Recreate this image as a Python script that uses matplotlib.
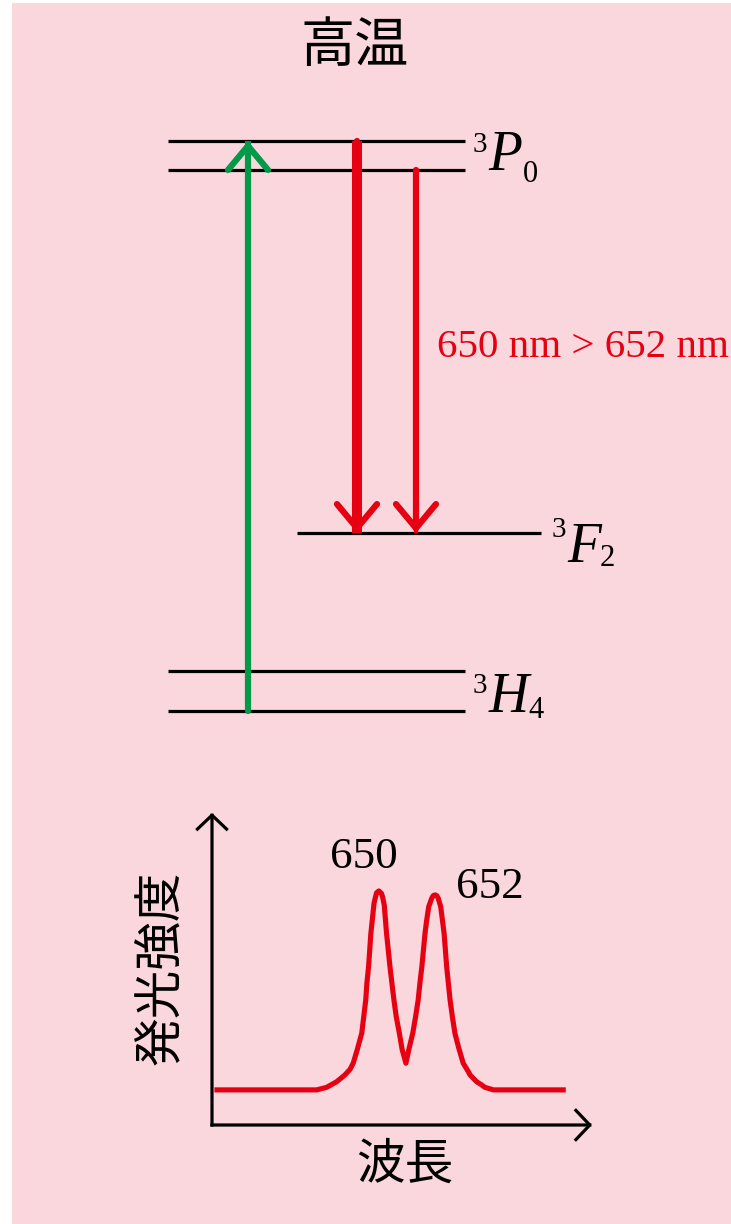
import matplotlib
matplotlib.use('Agg')
import matplotlib.pyplot as plt
from matplotlib.patches import FancyArrowPatch, Rectangle

# energy levels of the ion, in diagram units (3H4 lower sublevel = 0)
level_terms = ['3H4', '3H4', '3F2', '3P0', '3P0']
level_energy = [0, 40, 178, 541, 570]

# green pump: 3H4 -> upper 3P0
pump_from = 0
pump_to = 570

# red emissions 3P0 -> 3F2
emission_nm = [650, 652]
emission_from = [570, 541]
emission_to = [178, 178]

# emission spectrum at high temperature
wavelength = [644.26, 647.85, 648.2, 648.55, 648.84, 649.02, 649.13, 649.27,
              649.43, 649.5, 649.57, 649.61, 649.67, 649.75, 649.8, 649.86,
              649.92, 649.95, 650.03, 650.12, 650.16, 650.22, 650.3, 650.42,
              650.49, 650.56, 650.64, 650.75, 650.85, 650.98, 651.08, 651.22,
              651.32, 651.41, 651.47, 651.54, 651.65, 651.71, 651.78, 651.89,
              651.94, 652.0, 652.06, 652.11, 652.2, 652.26, 652.32, 652.41,
              652.47, 652.53, 652.61, 652.7, 652.82, 652.99, 653.17, 653.23,
              653.46, 653.64, 653.75, 654.05, 656.59]
intensity = [0.15, 0.15, 0.161, 0.185, 0.214, 0.238, 0.264, 0.321,
             0.392, 0.463, 0.534, 0.605, 0.677, 0.819, 0.876, 0.947,
             0.978, 0.992, 1.0, 0.99, 0.975, 0.94, 0.819, 0.677,
             0.605, 0.534, 0.463, 0.392, 0.321, 0.264, 0.321, 0.392,
             0.463, 0.534, 0.605, 0.677, 0.819, 0.876, 0.933, 0.97,
             0.98, 0.983, 0.98, 0.97, 0.933, 0.876, 0.819, 0.677,
             0.605, 0.534, 0.463, 0.392, 0.335, 0.264, 0.228, 0.214,
             0.185, 0.171, 0.161, 0.15, 0.15]

RED = '#e60012'
GREEN = '#009a48'
PINK = '#fad7dc'
W, H = 731, 1224

plt.rcParams['font.family'] = ['Noto Sans CJK JP', 'DejaVu Sans']
serif = 'Liberation Serif'

fig = plt.figure(figsize=(W / 100, H / 100), dpi=100)
fig.patch.set_facecolor('white')
fig.patches.append(Rectangle((12 / W, 0), 1, 1 - 3 / H, transform=fig.transFigure,
                             facecolor=PINK, edgecolor='none', zorder=-10))

# --- level diagram: x in pixels, y in diagram energy units ---
ax = fig.add_axes([0, 0, 1, 1])
ax.set_xlim(0, W)
ax.set_ylim(711 - H, 711)
ax.axis('off')
ax.patch.set_alpha(0)

level_span = {'3H4': (168, 465), '3F2': (297, 541), '3P0': (168, 465)}
for term, e in zip(level_terms, level_energy):
    x0, x1 = level_span[term]
    ax.plot([x0, x1], [e, e], color='black', lw=2.3, solid_capstyle='butt', zorder=2)


def arrow(x, e0, e1, color, shaft_lw, head_lw=4.5):
    ax.plot([x, x], [e0, e1], color=color, lw=shaft_lw, solid_capstyle='butt', zorder=3)
    ax.add_patch(FancyArrowPatch((x, e0), (x, e1), arrowstyle='->,head_length=17.3,head_width=14.4',
                                 mutation_scale=1, lw=head_lw, color=color,
                                 shrinkA=0, shrinkB=0, zorder=3))


arrow(248, pump_from, pump_to, GREEN, 4.3)
emission_x = [357, 416]
emission_lw = [7.2, 3.2]
for x, e0, e1, lw in zip(emission_x, emission_from, emission_to, emission_lw):
    arrow(x, e0, e1, RED, lw)

ax.text(437, 711 - 357, f'{emission_nm[0]} nm > {emission_nm[1]} nm', color=RED,
        family=serif, fontsize=29.5, ha='left', va='baseline')


def term_label(sup_xy, letter_xy, sub_xy, letter, sub):
    ax.text(sup_xy[0], 711 - sup_xy[1], '3', family=serif, fontsize=21, va='baseline')
    ax.text(letter_xy[0], 711 - letter_xy[1], letter, family=serif, style='italic',
            fontsize=40, va='baseline')
    ax.text(sub_xy[0], 711 - sub_xy[1], sub, family=serif, fontsize=22, va='baseline')


term_label((473, 152), (488, 170), (523, 182), 'P', '0')
term_label((552, 537), (567, 562), (600, 566), 'F', '2')
term_label((473, 693), (489, 712), (528, 718), 'H', '4')

fig.text(355 / W, 1 - 47 / H, '高温', fontsize=39, ha='center', va='center')

# --- spectrum ---
x_lo, x_hi = 644.175, 657.51
sx = fig.add_axes([212 / W, 1 - 1125 / H, (592 - 212) / W, (1125 - 813) / H])
sx.set_xlim(x_lo, x_hi)
sx.set_ylim(0, 1.333)
sx.axis('off')
sx.patch.set_alpha(0)
sx.plot(wavelength, intensity, color=RED, lw=3.7, solid_joinstyle='round',
        solid_capstyle='butt', clip_on=False)
for start, end in [((0, 0), (1, 0)), ((0, 0), (0, 1))]:
    sx.add_patch(FancyArrowPatch(start, end, transform=sx.transAxes,
                                 arrowstyle='->,head_length=10,head_width=10.5',
                                 mutation_scale=1, lw=2.3, color='black',
                                 shrinkA=0, shrinkB=0, capstyle='projecting', clip_on=False))

for nm, dx, y in zip(emission_nm, [-1.7, 0.75], [1.10, 0.97]):
    sx.text(nm + dx, y, str(nm), family=serif, fontsize=32.5, ha='left', va='baseline')

fig.text(405 / W, 1 - 1165 / H, '波長', fontsize=35, ha='center', va='center')
fig.text(161 / W, 1 - 968 / H, '発光強度', fontsize=35, ha='center', va='center', rotation=90)

fig.savefig('out.png', dpi=100)
